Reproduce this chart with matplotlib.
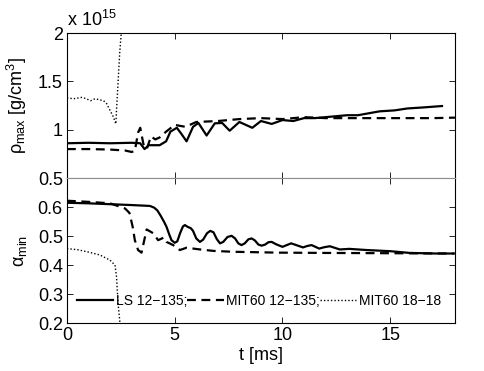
import numpy as np
import matplotlib
matplotlib.use("Agg")
import matplotlib.pyplot as plt

plt.rcParams['font.family'] = ['Liberation Sans', 'DejaVu Sans']
plt.rcParams['mathtext.fontset'] = 'custom'
plt.rcParams['mathtext.rm'] = 'Liberation Sans'

# --- data ---
# rho_max in units of 1e15 g/cm^3
t_rho_ls = [0, 1, 2, 3, 3.4, 3.6, 3.8, 4.3, 4.6, 4.8, 5.1, 5.3, 5.55, 5.85, 6.1, 6.48, 6.86,
            7.2, 7.55, 8.0, 8.6, 9.0, 9.5, 10.0, 10.5, 11.0, 11.5, 12.0, 12.5, 13.0,
            13.5, 14.0, 14.5, 15.2, 15.8, 16.5, 17.4]
rho_ls = [0.86, 0.865, 0.86, 0.865, 0.86, 0.80, 0.84, 0.84, 0.88, 0.98, 1.02, 0.96, 0.88, 1.03,
          1.07, 0.94, 1.066, 1.07, 0.99, 1.08, 1.02, 1.09, 1.06, 1.10, 1.09, 1.12, 1.12,
          1.13, 1.14, 1.15, 1.15, 1.17, 1.19, 1.20, 1.22, 1.23, 1.245]

t_rho_mit = [0, 1, 2, 2.7, 3.0, 3.15, 3.3, 3.4, 3.55, 3.7, 3.9, 4.1, 4.3, 4.6, 5.0, 5.5, 6.0,
             7.0, 8.0, 9.0, 10.0, 11.0, 12.0, 13, 14, 15, 16, 17, 18]
rho_mit = [0.80, 0.80, 0.795, 0.785, 0.77, 0.78, 0.97, 1.02, 0.85, 0.80, 0.93, 0.90, 0.92,
           0.98, 1.05, 1.03, 1.08, 1.09, 1.11, 1.12, 1.11, 1.13, 1.12, 1.12, 1.12, 1.12,
           1.12, 1.12, 1.125]

t_rho_mit18 = [0, 0.3, 0.7, 0.9, 1.1, 1.3, 1.5, 1.7, 1.84, 2.0, 2.15, 2.27, 2.3, 2.35,
               2.4, 2.45, 2.52]
rho_mit18 = [1.33, 1.32, 1.335, 1.32, 1.30, 1.32, 1.31, 1.30, 1.27, 1.20, 1.135, 1.06, 1.2,
             1.4, 1.6, 1.8, 2.0]

# alpha_min
t_a_ls = [0, 1, 2, 3, 3.85, 4.05, 4.2, 4.35, 4.5, 4.62, 4.75, 4.85, 5.0, 5.12, 5.25, 5.38,
          5.47, 5.6, 5.75, 5.85, 6.0, 6.17, 6.32, 6.5, 6.65, 6.8, 6.95, 7.1, 7.25, 7.45,
          7.64, 7.8, 7.95, 8.1, 8.25, 8.42, 8.57, 8.72, 8.88, 9.03, 9.2, 9.35, 9.5, 9.7,
          10.0, 10.2, 10.4, 10.6, 10.95, 11.15, 11.35, 11.5, 11.7, 11.95, 12.2, 12.45,
          12.66, 13.1, 13.9, 15.0, 15.9, 17.1, 17.9]
a_ls = [0.615, 0.613, 0.61, 0.607, 0.604, 0.598, 0.588, 0.57, 0.55, 0.532, 0.505, 0.486,
        0.477, 0.482, 0.51, 0.533, 0.538, 0.532, 0.527, 0.518, 0.492, 0.48, 0.488, 0.51,
        0.518, 0.513, 0.49, 0.475, 0.48, 0.497, 0.501, 0.492, 0.475, 0.469, 0.475, 0.489,
        0.492, 0.485, 0.471, 0.467, 0.471, 0.479, 0.48, 0.472, 0.463, 0.469, 0.475, 0.47,
        0.461, 0.466, 0.469, 0.464, 0.457, 0.462, 0.465, 0.459, 0.454, 0.456, 0.452,
        0.448, 0.442, 0.44, 0.44]

t_a_mit = [0, 1, 2, 2.7, 2.9, 3.05, 3.15, 3.3, 3.46, 3.6, 3.7, 4.0, 4.23, 4.5, 4.62, 4.93,
           5.24, 5.55, 6.17, 6.8, 7.7, 9.8, 12, 15, 18]
a_mit = [0.622, 0.618, 0.613, 0.595, 0.58, 0.532, 0.486, 0.452, 0.443, 0.49, 0.523, 0.51,
         0.486, 0.495, 0.48, 0.469, 0.452, 0.46, 0.454, 0.449, 0.446, 0.443, 0.442, 0.441,
         0.44]

t_a_mit18 = [0, 0.5, 1.0, 1.53, 2.0, 2.23, 2.3, 2.37, 2.46, 2.5]
a_mit18 = [0.457, 0.453, 0.445, 0.435, 0.417, 0.4, 0.36, 0.27, 0.2, 0.15]

labels = ['LS 12\u2212135;', 'MIT60 12\u2212135;', 'MIT60 18\u221218']

fig = plt.figure(figsize=(4.85, 3.71), dpi=100)
ax1 = fig.add_axes([0.138, 0.520, 0.800, 0.391])
ax2 = fig.add_axes([0.138, 0.129, 0.800, 0.391])

dash = (0, (4, 2.5))
for ax, data in [(ax1, [(t_rho_ls, rho_ls), (t_rho_mit, rho_mit), (t_rho_mit18, rho_mit18)]),
                 (ax2, [(t_a_ls, a_ls), (t_a_mit, a_mit), (t_a_mit18, a_mit18)])]:
    ax.plot(data[0][0], data[0][1], color='black', lw=1.6, ls='-', label=labels[0])
    ax.plot(data[1][0], data[1][1], color='black', lw=1.6, ls=dash, label=labels[1])
    ax.plot(data[2][0], data[2][1], color='black', lw=1.0, ls=(0, (1, 1.5)), label=labels[2])
    ax.set_xlim(0, 18)
    ax.set_xticks([0, 5, 10, 15])
    ax.tick_params(direction='in', top=True, right=True, labelsize=13, length=4,
                   width=0.6, pad=3)
    for s in ax.spines.values():
        s.set_linewidth(0.8)

ax1.set_ylim(0.5, 2)
ax1.set_yticks([0.5, 1, 1.5, 2])
ax1.set_yticklabels(['0.5', '1', '1.5', '2'])
ax1.tick_params(labelbottom=False)
ax1.spines['bottom'].set_color('#8c8c8c')
ax1.set_ylabel('\u03c1$_{\\mathrm{max}}$ [g/cm$^3$]', fontsize=13, labelpad=6)
ax1.text(0, 1.02, 'x 10$^{15}$', transform=ax1.transAxes, fontsize=13,
         ha='left', va='bottom')

ax2.set_ylim(0.2, 0.7)
ax2.set_yticks([0.2, 0.3, 0.4, 0.5, 0.6])
ax2.set_yticklabels(['0.2', '0.3', '0.4', '0.5', '0.6'])
ax2.spines['top'].set_color('#8c8c8c')
ax2.set_ylabel('\u03b1$_{\\mathrm{min}}$', fontsize=13, labelpad=6)
ax2.set_xlabel('t [ms]', fontsize=13, labelpad=2)

ax2.legend(loc='lower left', bbox_to_anchor=(0.005, 0.05), ncol=3, frameon=False,
           fontsize=10, handlelength=2.6, handletextpad=0.2, columnspacing=0.0,
           borderpad=0.1)

fig.savefig('out.png', dpi=100)
